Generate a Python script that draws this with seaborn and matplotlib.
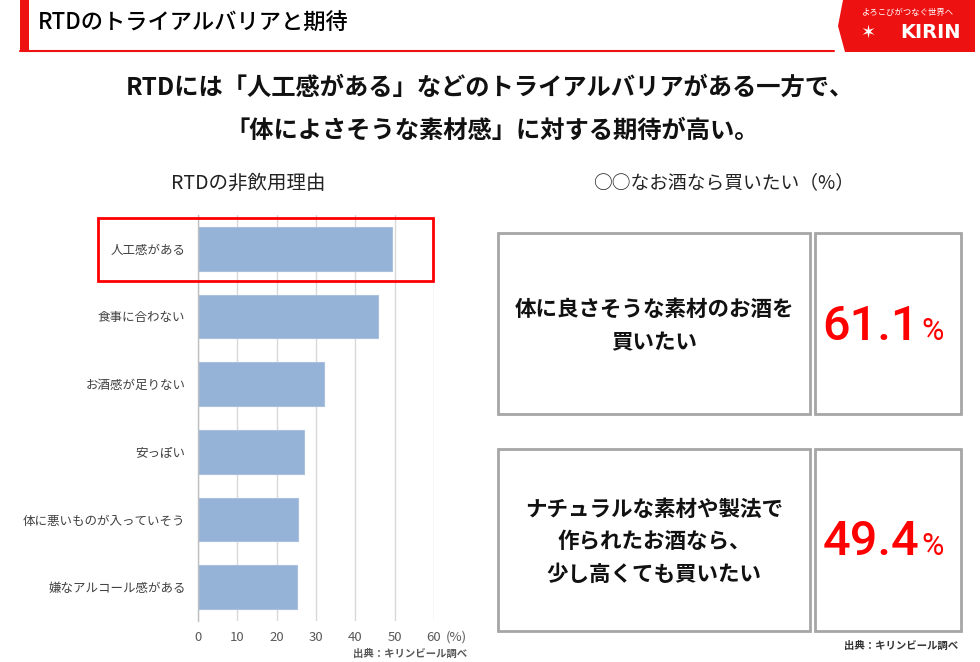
import matplotlib
matplotlib.use("Agg")
import matplotlib.pyplot as plt
import matplotlib.patches as mpatches
import seaborn as sns
import pandas as pd

# ---- data ----
reasons = ["人工感がある", "食事に合わない", "お酒感が足りない", "安っぽい",
           "体に悪いものが入っていそう", "嫌なアルコール感がある"]
reason_pct = [49.3, 45.8, 32.0, 27.0, 25.4, 25.1]
x_ticks = [0, 10, 20, 30, 40, 50, 60]

want_labels = ["体に良さそうな素材のお酒を\n買いたい",
               "ナチュラルな素材や製法で\n作られたお酒なら、\n少し高くても買いたい"]
want_pct = ["61.1", "49.4"]

title = "RTDのトライアルバリアと期待"
subtitle1 = "RTDには「人工感がある」などのトライアルバリアがある一方で、"
subtitle2 = "「体によさそうな素材感」に対する期待が高い。"
left_title = "RTDの非飲用理由"
right_title = "○○なお酒なら買いたい（%）"
source = "出典：キリンビール調べ"

sns.set_theme(style="white")
plt.rcParams['font.family'] = ['Noto Sans CJK JP', 'DejaVu Sans']

W, H = 980, 662
fig = plt.figure(figsize=(W / 100, H / 100), dpi=100)
fig.patch.set_facecolor("white")


def fx(px):
    return px / W


def fy(py):
    return 1 - py / H


def frect(x0, y0, x1, y1, **kw):
    r = mpatches.Rectangle((fx(x0), fy(y1)), fx(x1) - fx(x0), fy(y0) - fy(y1),
                           transform=fig.transFigure, **kw)
    fig.add_artist(r)
    return r


RED = "#ee1111"

# ---- header ----
frect(20, 0, 29, 52, facecolor=RED, edgecolor="none")
fig.add_artist(plt.Line2D([fx(20), fx(834)], [fy(50.5), fy(50.5)],
                          transform=fig.transFigure, color=RED, lw=1.5))
fig.text(fx(38), fy(23), title, fontsize=16, color="#000000", va="center", ha="left",
         fontweight="medium")

# logo block
logo = mpatches.Polygon([(fx(843), fy(0)), (fx(975), fy(0)), (fx(975), fy(52)),
                         (fx(845), fy(52)), (fx(838), fy(26))],
                        closed=True, transform=fig.transFigure,
                        facecolor=RED, edgecolor="none")
fig.add_artist(logo)
fig.text(fx(908), fy(12), "よろこびがつなぐ世界へ", fontsize=6, color="white",
         ha="center", va="center")
fig.text(fx(930), fy(33), "KIRIN", fontsize=14, color="white", fontweight="bold",
         ha="center", va="center", family=["DejaVu Sans"])
fig.text(fx(868), fy(33), "✶", fontsize=13, color="white", ha="center", va="center",
         family=["DejaVu Sans"])

# ---- subtitles ----
fig.text(fx(490), fy(88), subtitle1, fontsize=17.5, fontweight="bold",
         ha="center", va="center", color="#111111")
fig.text(fx(492), fy(131), subtitle2, fontsize=17.5, fontweight="bold",
         ha="center", va="center", color="#111111")

fig.text(fx(248), fy(183), left_title, fontsize=14, ha="center", va="center",
         color="#222222")
fig.text(fx(724), fy(183), right_title, fontsize=13.5, ha="center", va="center",
         color="#222222")

# ---- bar chart ----
ax_l, ax_r, ax_t, ax_b = 198, 434, 215, 621
ax = fig.add_axes([fx(ax_l), fy(ax_b), fx(ax_r) - fx(ax_l), fy(ax_t) - fy(ax_b)])
df = pd.DataFrame({"reason": reasons, "pct": reason_pct})
sns.barplot(data=df, x="pct", y="reason", orient="h", color="#95b3d7",
            saturation=1, width=0.65, edgecolor="#a9c1df", linewidth=0.8, ax=ax)
ax.set_xlim(0, 60)
ax.set_ylim(5.5, -0.5)
ax.set_xticks(x_ticks)
ax.set_xticklabels([str(t) for t in x_ticks])
ax.set_xlabel("")
ax.set_ylabel("")
ax.grid(axis="x", color="#d9d9d9", lw=1.0)
ax.grid(axis="y", visible=False)
ax.set_axisbelow(True)
for s in ["top", "right", "bottom"]:
    ax.spines[s].set_visible(False)
ax.spines["left"].set_color("#bfbfbf")
ax.spines["left"].set_linewidth(1.0)
ax.tick_params(axis="x", length=0, labelsize=9.5, labelcolor="#595959", pad=7)
ax.tick_params(axis="y", length=0, labelsize=9, labelcolor="#404040", pad=9)

fig.text(fx(446), fy(637), "(%)", ha="left", va="center", fontsize=9.5,
         color="#595959")

# red highlight box around first bar
frect(98, 218, 433, 281, facecolor="none", edgecolor="#ff0000", lw=2.0)

fig.text(fx(467), fy(654), source, fontsize=7.5, ha="right", va="center",
         color="#595959", fontweight="bold")

# ---- right side boxes ----
BOX_EC = "#a6a6a6"
boxes = [((498, 233, 810, 414), (815, 233, 961, 414)),
         ((498, 449, 810, 631), (815, 449, 961, 631))]
text_centers = [326, 542]
baselines = [340, 555]
for i, ((l1, t1, r1, b1), (l2, t2, r2, b2)) in enumerate(boxes):
    frect(l1, t1, r1, b1, facecolor="white", edgecolor=BOX_EC, lw=2.0)
    frect(l2, t2, r2, b2, facecolor="white", edgecolor=BOX_EC, lw=2.0)
    fig.text(fx((l1 + r1) / 2), fy(text_centers[i]), want_labels[i], fontsize=15.5,
             fontweight="bold", ha="center", va="center", linespacing=1.7,
             color="#111111")
    fig.text(fx(919), fy(baselines[i]), want_pct[i], fontsize=35, color="#ff0000",
             ha="right", va="baseline", fontweight="medium", family=["Roboto"])
    fig.text(fx(921), fy(baselines[i]), "%", fontsize=22, color="#ff0000",
             ha="left", va="baseline", family=["Roboto"])

fig.text(fx(958), fy(646), source, fontsize=7.5, ha="right", va="center",
         color="#333333", fontweight="bold")

fig.savefig("out.png", dpi=100, facecolor="white")
